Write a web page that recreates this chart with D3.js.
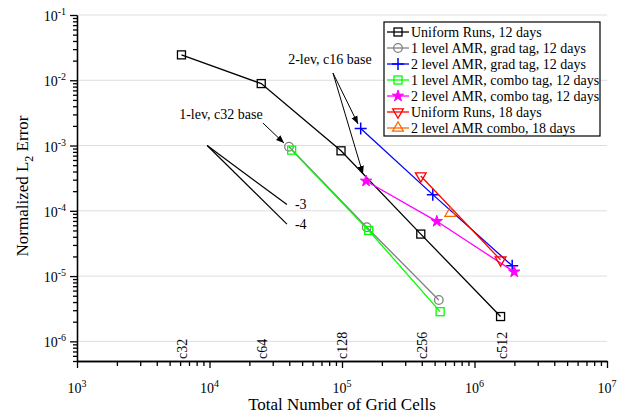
<!DOCTYPE html>
<html>
<head>
<meta charset="UTF-8">
<script src="https://d3js.org/d3.v7.min.js"></script>
</head>
<body style="margin:0">
<svg id="chart" width="622" height="415"></svg>
<script>
  // series data (total grid cells, normalized L2 error)
  const uniform12N = [6144, 24576, 98304, 393216, 1572864];
  const uniform12E = [2.45e-2, 8.9e-3, 8.3e-4, 4.4e-5, 2.4e-6];
  const amr1GradN = [39800, 153700, 537800];
  const amr1GradE = [9.6e-4, 5.6e-5, 4.3e-6];
  const amr2GradN = [138400, 484500, 1925000];
  const amr2GradE = [1.83e-3, 1.77e-4, 1.44e-5];
  const amr1ComboN = [41700, 159100, 550100];
  const amr1ComboE = [8.5e-4, 5.0e-5, 2.85e-6];
  const amr2ComboN = [151800, 519400, 1994000];
  const amr2ComboE = [2.86e-4, 6.9e-5, 1.16e-5];
  const uniform18N = [393216, 1572864];
  const uniform18E = [3.42e-4, 1.77e-5];
  const amr2Combo18N = [655800];
  const amr2Combo18E = [9.2e-5];

  const seriesNames = [
    "Uniform Runs, 12 days",
    "1 level AMR, grad tag, 12 days",
    "2 level AMR, grad tag, 12 days",
    "1 level AMR, combo tag, 12 days",
    "2 level AMR, combo tag, 12 days",
    "Uniform Runs, 18 days",
    "2 level AMR combo, 18 days"
  ];

  const resLabels = ["c32", "c64", "c128", "c256", "c512"];
  const xMajor = [1e3, 1e4, 1e5, 1e6, 1e7];
  const yMajor = [1e-6, 1e-5, 1e-4, 1e-3, 1e-2, 1e-1];

  // reference slope lines
  const slopeStart = [9600, 1e-3];
  const slopeEnds = [[38400, 1.25e-4], [38400, 6.25e-5]];
  const slopeLabels = ["-3", "-4"];

  const FONT = '"Liberation Serif"';
  const svg = d3.select("#chart");
  const x = d3.scaleLog().domain([1e3, 1e7]).range([77, 607]);
  const y = d3.scaleLog().domain([5e-7, 1e-1]).range([361, 15]);

  const zip = (ns, es) => ns.map((n, i) => [n, es[i]]);

  const series = [
    { data: zip(uniform12N, uniform12E), color: "#000000", marker: "square" },
    { data: zip(amr1GradN, amr1GradE), color: "#808080", marker: "circle" },
    { data: zip(amr2GradN, amr2GradE), color: "#0000ff", marker: "plus" },
    { data: zip(amr1ComboN, amr1ComboE), color: "#00ff00", marker: "square" },
    { data: zip(amr2ComboN, amr2ComboE), color: "#ff00ff", marker: "star" },
    { data: zip(uniform18N, uniform18E), color: "#ff0000", marker: "tridown" },
    { data: zip(amr2Combo18N, amr2Combo18E), color: "#ff6600", marker: "triup" }
  ];
  series.forEach((s, i) => s.name = seriesNames[i]);

  function addText(parent) {
    return parent.append("text").style("font-family", FONT);
  }

  // grid
  svg.append("g").selectAll("line").data(yMajor).join("line")
    .attr("x1", x.range()[0]).attr("x2", x.range()[1])
    .attr("y1", d => y(d)).attr("y2", d => y(d))
    .attr("stroke", "#dedede").attr("stroke-width", 1);

  // axes
  const minorX = [];
  for (let e = 3; e < 7; e++) for (let k = 2; k <= 9; k++) minorX.push(k * Math.pow(10, e));
  const minorY = [];
  for (let e = -7; e < -1; e++) for (let k = 2; k <= 9; k++) {
    const v = k * Math.pow(10, e);
    if (v >= 5e-7 && v < 0.1) minorY.push(v);
  }

  const xAxisG = svg.append("g").attr("transform", `translate(0,${y.range()[0]})`);
  xAxisG.append("g").call(d3.axisBottom(x).tickValues(xMajor).tickFormat("").tickSize(7).tickSizeOuter(0));
  xAxisG.append("g").call(d3.axisBottom(x).tickValues(minorX).tickFormat("").tickSize(5).tickSizeOuter(0));
  xAxisG.selectAll("path, line").attr("stroke", "#000").attr("stroke-width", 1.3);
  xAxisG.selectAll("text").remove();

  const yAxisG = svg.append("g").attr("transform", `translate(${x.range()[0]},0)`);
  yAxisG.append("g").call(d3.axisLeft(y).tickValues(yMajor).tickFormat("").tickSize(7).tickSizeOuter(0));
  yAxisG.append("g").call(d3.axisLeft(y).tickValues(minorY).tickFormat("").tickSize(4).tickSizeOuter(0));
  yAxisG.selectAll("path, line").attr("stroke", "#000").attr("stroke-width", 1.3);
  yAxisG.selectAll("text").remove();

  // tick labels with superscripts
  xMajor.forEach(v => {
    const t = addText(svg).attr("x", x(v)).attr("y", 393)
      .attr("text-anchor", "middle").attr("font-size", 14);
    t.append("tspan").text("10");
    t.append("tspan").attr("dy", -6).attr("font-size", 10).text(Math.round(Math.log10(v)));
  });
  yMajor.forEach(v => {
    const t = addText(svg).attr("x", 66).attr("y", y(v) + 6)
      .attr("text-anchor", "end").attr("font-size", 14);
    t.append("tspan").text("10");
    t.append("tspan").attr("dy", -6).attr("font-size", 10).text(Math.round(Math.log10(v)));
  });

  // axis titles
  addText(svg).attr("x", (x.range()[0] + x.range()[1]) / 2).attr("y", 410)
    .attr("text-anchor", "middle").attr("font-size", 17).text("Total Number of Grid Cells");
  const yt = addText(svg).attr("transform", "translate(28,186) rotate(-90)")
    .attr("text-anchor", "middle").attr("font-size", 17);
  yt.append("tspan").text("Normalized L");
  yt.append("tspan").attr("dy", 5).attr("font-size", 12).text("2");
  yt.append("tspan").attr("dy", -5).text(" Error");

  // resolution labels along the bottom
  resLabels.forEach((d, i) => {
    addText(svg).attr("transform", `translate(${x(uniform12N[i]) + 6},359) rotate(-90)`)
      .attr("font-size", 14).text(d);
  });

  // markers
  function drawMarker(g, kind, color) {
    if (kind === "square") {
      g.append("rect").attr("x", -4).attr("y", -4).attr("width", 8).attr("height", 8)
        .attr("fill", "none").attr("stroke", color).attr("stroke-width", 1.3);
    } else if (kind === "circle") {
      g.append("circle").attr("r", 4.3).attr("fill", "none").attr("stroke", color).attr("stroke-width", 1.3);
    } else if (kind === "plus") {
      g.append("path").attr("d", "M-6,0H6M0,-6V6").attr("stroke", color).attr("stroke-width", 1.5);
    } else if (kind === "star") {
      g.append("path").attr("d", d3.symbol(d3.symbolStar, 40)()).attr("fill", color).attr("stroke", color);
    } else if (kind === "tridown") {
      g.append("path").attr("d", d3.symbol(d3.symbolTriangle, 50)()).attr("transform", "rotate(180)")
        .attr("fill", "none").attr("stroke", color).attr("stroke-width", 1.3);
    } else if (kind === "triup") {
      g.append("path").attr("d", d3.symbol(d3.symbolTriangle, 50)())
        .attr("fill", "none").attr("stroke", color).attr("stroke-width", 1.3);
    }
  }

  // reference slope lines
  slopeEnds.forEach((e, i) => {
    svg.append("line")
      .attr("x1", x(slopeStart[0])).attr("y1", y(slopeStart[1]))
      .attr("x2", x(e[0])).attr("y2", y(e[1]))
      .attr("stroke", "#000").attr("stroke-width", 1.2);
    addText(svg).attr("x", x(e[0]) + 8).attr("y", y(e[1]) + 5)
      .attr("font-size", 14).text(slopeLabels[i]);
  });

  // series lines and markers
  const line = d3.line().x(d => x(d[0])).y(d => y(d[1]));
  series.forEach(s => {
    svg.append("path").datum(s.data).attr("d", line)
      .attr("fill", "none").attr("stroke", s.color).attr("stroke-width", 1.3);
    s.data.forEach(d => {
      drawMarker(svg.append("g").attr("transform", `translate(${x(d[0])},${y(d[1])})`), s.marker, s.color);
    });
  });

  // annotations
  svg.append("defs").append("marker").attr("id", "arrow")
    .attr("viewBox", "0 0 10 10").attr("refX", 10).attr("refY", 5)
    .attr("markerWidth", 8).attr("markerHeight", 8).attr("markerUnits", "userSpaceOnUse")
    .attr("orient", "auto")
    .append("path").attr("d", "M0,1L10,5L0,9Z").attr("fill", "#000");

  const notes = [
    { text: "1-lev, c32 base", at: [12200, 2.55e-3], arrows: [[[25300, 2.21e-3], [36500, 1.09e-3]]] },
    { text: "2-lev, c16 base", at: [81100, 1.77e-2], arrows: [[[85500, 1.29e-2], [132100, 2.14e-3]], [[85500, 1.29e-2], [144000, 3.67e-4]]] }
  ];
  notes.forEach(n => {
    addText(svg).attr("x", x(n.at[0])).attr("y", y(n.at[1]))
      .attr("text-anchor", "middle").attr("font-size", 14).text(n.text);
    n.arrows.forEach(a => {
      svg.append("line")
        .attr("x1", x(a[0][0])).attr("y1", y(a[0][1]))
        .attr("x2", x(a[1][0])).attr("y2", y(a[1][1]))
        .attr("stroke", "#000").attr("stroke-width", 1).attr("marker-end", "url(#arrow)");
    });
  });

  // legend
  const lg = svg.append("g").attr("transform", "translate(384,22)");
  lg.append("rect").attr("width", 216).attr("height", 114)
    .attr("fill", "#fff").attr("stroke", "#000").attr("stroke-width", 1.2);
  series.forEach((s, i) => {
    const row = lg.append("g").attr("transform", `translate(0,${10 + i * 16})`);
    row.append("line").attr("x1", 3).attr("x2", 25).attr("stroke", s.color).attr("stroke-width", 1.3);
    drawMarker(row.append("g").attr("transform", "translate(14,0)"), s.marker, s.color);
    addText(row).attr("x", 27).attr("y", 5).attr("font-size", 14).text(s.name);
  });
</script>
</body>
</html>
